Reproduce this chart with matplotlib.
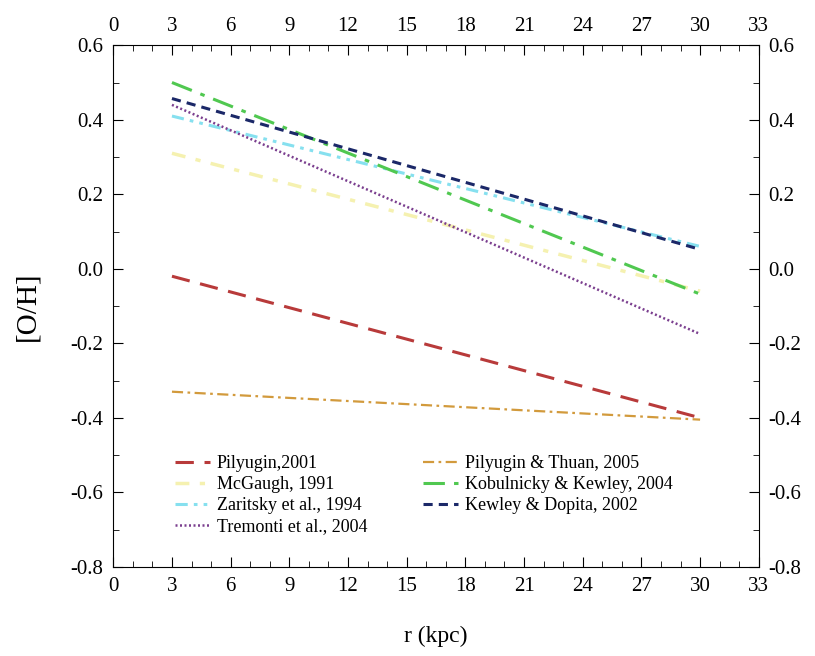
# Radial [O/H] gradients from different calibrations

import numpy as np
from matplotlib import pyplot as plt
from matplotlib.ticker import MultipleLocator

plt.rcParams['font.family'] = ['Liberation Serif', 'DejaVu Serif']

r = [3, 30]

labels = ["Pilyugin,2001", "McGaugh, 1991", "Zaritsky et al., 1994",
          "Tremonti et al., 2004", "Pilyugin & Thuan, 2005",
          "Kobulnicky & Kewley, 2004", "Kewley & Dopita, 2002"]

pilyugin01 = [-0.02, -0.40]
mcgaugh = [0.31, -0.06]
zaritsky = [0.41, 0.06]
tremonti = [0.44, -0.175]
pilyugin05 = [-0.33, -0.405]
kobulnicky = [0.50, -0.068]
kewley = [0.457, 0.052]

series = [pilyugin01, mcgaugh, zaritsky, tremonti,
          pilyugin05, kobulnicky, kewley]
colors = ['#b83a3a', '#f5f1b0', '#86e0ef', '#7b3f8f',
          '#d29a3c', '#50c850', '#1b2868']
styles = [(0, (6, 3.5)), (0, (4, 3, 1.5, 3)), (0, (4, 2, 1.2, 2, 1.2, 2)),
          (0, (0.8, 1.0)), (0, (5, 2, 1.2, 2)), (0, (7, 3, 1.5, 3)),
          (0, (3, 2))]
widths = [2.2, 2.5, 2.2, 1.8, 1.6, 2.2, 2.2]

fig = plt.figure(figsize=(8.15, 6.56), dpi=100)
ax = fig.add_axes([0.139, 0.136, 0.792, 0.795])

handles = []
for y, c, ls, lw, lab in zip(series, colors, styles, widths, labels):
    h, = ax.plot(r, y, color=c, ls=ls, lw=lw, label=lab)
    handles.append(h)

ax.set_xlim(0, 33)
ax.set_ylim(-0.8, 0.6)
ax.xaxis.set_major_locator(MultipleLocator(3))
ax.xaxis.set_minor_locator(MultipleLocator(1))
ax.yaxis.set_major_locator(MultipleLocator(0.2))
ax.yaxis.set_minor_locator(MultipleLocator(0.1))
ax.yaxis.set_major_formatter(plt.FormatStrFormatter('%.1f'))
ax.tick_params(which='both', direction='in', top=True, right=True,
               labeltop=True, labelright=True, labelsize=15, pad=7)
ax.tick_params(which='major', length=7)
ax.tick_params(which='minor', length=4)

ax.set_xlabel("r (kpc)", fontsize=17, labelpad=22)
ax.set_ylabel("[O/H]", fontsize=21, labelpad=22)

ax.legend(handles=handles, ncol=2, frameon=False, fontsize=13,
          loc='upper left', bbox_to_anchor=(0.085, 0.228),
          handlelength=1.9, handletextpad=0.4, columnspacing=3.1,
          labelspacing=0.22, borderaxespad=0)

fig.savefig('out.png', dpi=100)
